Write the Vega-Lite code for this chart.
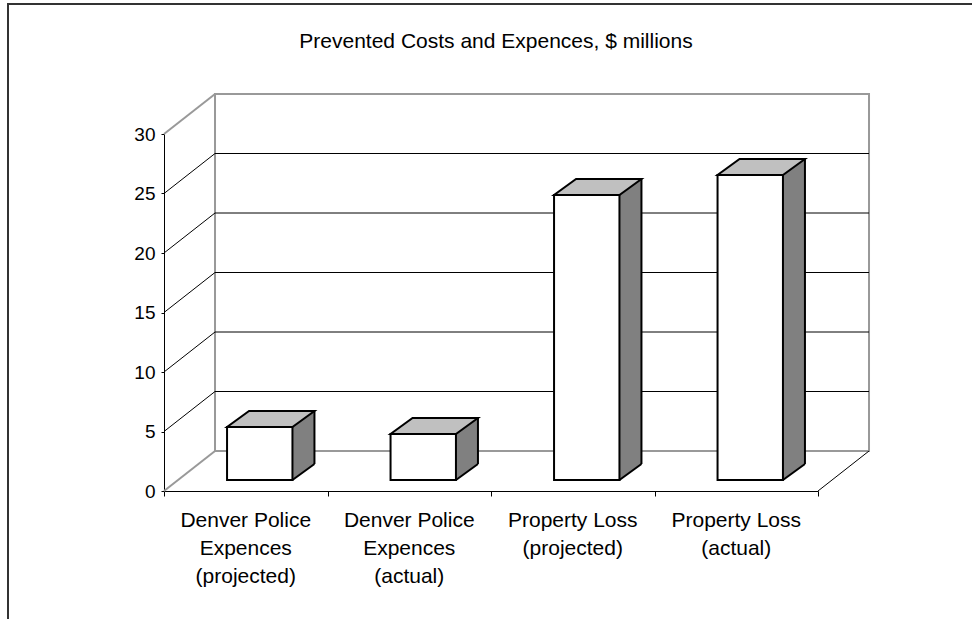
{
  "$schema": "https://vega.github.io/schema/vega-lite/v6.json",
  "width": 654,
  "height": 357,
  "autosize": "none",
  "padding": {"left": 164, "top": 134, "right": 154, "bottom": 128},
  "background": "white",
  "config": {
    "view": {"stroke": null},
    "font": "Liberation Sans",
    "axis": {"labelFont": "Liberation Sans", "labelColor": "black", "domainColor": "black", "tickColor": "black", "grid": false}
  },
  "title": {"text": "Prevented Costs and Expences, $ millions", "frame": "group", "anchor": "middle", "fontSize": 21, "fontWeight": "normal", "font": "Liberation Sans", "color": "black", "offset": -49, "dx": 5},
  "datasets": {
    "bars": [
      {"category": "Denver Police Expences (projected)", "value": 4.45},
      {"category": "Denver Police Expences (actual)", "value": 3.87},
      {"category": "Property Loss (projected)", "value": 23.95},
      {"category": "Property Loss (actual)", "value": 25.63}
    ],
    "grid": [{"v": 5}, {"v": 10}, {"v": 15}, {"v": 20}, {"v": 25}],
    "edges": [{"v": 0}, {"v": 30}],
    "one": [{}]
  },
  "resolve": {"scale": {"x": "independent"}, "axis": {"x": "independent"}},
  "layer": [
    {
      "layer": [
        {
          "data": {"name": "one"},
          "mark": {"type": "rect", "fillOpacity": 0, "stroke": "#333333", "strokeWidth": 2},
          "encoding": {
            "x": {"value": -156},
            "x2": {"value": 900},
            "y": {"value": -130},
            "y2": {"value": 600}
          }
        },
        {
          "data": {"name": "one"},
          "mark": {"type": "rect", "fillOpacity": 0, "stroke": "#999999", "strokeWidth": 2, "yOffset": -40, "y2Offset": -40},
          "encoding": {
            "x": {"datum": 0.078, "type": "quantitative", "scale": {"domain": [0, 1]}, "axis": {"orient": "bottom", "values": [0, 0.25, 0.5, 0.75, 1], "labels": false, "domain": false, "ticks": true, "tickSize": 5, "tickColor": "black", "grid": false, "title": null}},
            "x2": {"datum": 1.078},
            "y": {"datum": 30, "type": "quantitative", "title": null, "scale": {"domain": [0, 30], "nice": false}, "axis": {"values": [0, 5, 10, 15, 20, 25, 30], "tickSize": 3, "labelPadding": 6, "labelFontSize": 19, "domainColor": "black", "tickColor": "black", "grid": false, "title": null}},
            "y2": {"datum": 0}
          }
        },
        {
          "data": {"name": "grid"},
          "mark": {"type": "rule", "color": "black", "strokeWidth": 1, "yOffset": -40},
          "encoding": {
            "x": {"datum": 0.078, "type": "quantitative", "scale": {"domain": [0, 1]}},
            "x2": {"datum": 1.078},
            "y": {"field": "v", "type": "quantitative", "title": null, "scale": {"domain": [0, 30], "nice": false}}
          }
        },
        {
          "data": {"name": "grid"},
          "mark": {"type": "rule", "color": "black", "strokeWidth": 1, "y2Offset": -40},
          "encoding": {
            "x": {"datum": 0, "type": "quantitative", "scale": {"domain": [0, 1]}},
            "x2": {"datum": 0.078},
            "y": {"field": "v", "type": "quantitative", "title": null, "scale": {"domain": [0, 30], "nice": false}},
            "y2": {"field": "v"}
          }
        },
        {
          "data": {"name": "edges"},
          "mark": {"type": "rule", "color": "#999999", "strokeWidth": 2, "y2Offset": -40},
          "encoding": {
            "x": {"datum": 0, "type": "quantitative", "scale": {"domain": [0, 1]}},
            "x2": {"datum": 0.078},
            "y": {"field": "v", "type": "quantitative", "title": null, "scale": {"domain": [0, 30], "nice": false}},
            "y2": {"field": "v"}
          }
        },
        {
          "data": {"name": "one"},
          "mark": {"type": "rule", "color": "black", "strokeWidth": 1, "y2Offset": -40},
          "encoding": {
            "x": {"datum": 1, "type": "quantitative", "scale": {"domain": [0, 1]}},
            "x2": {"datum": 1.078},
            "y": {"datum": 0, "type": "quantitative", "title": null, "scale": {"domain": [0, 30], "nice": false}},
            "y2": {"datum": 0}
          }
        }
      ]
    },
    {
      "data": {"name": "bars"},
      "encoding": {
        "x": {"field": "category", "type": "nominal", "sort": null, "title": null,
              "scale": {"paddingInner": 0.6, "paddingOuter": 0.3},
              "axis": {"orient": "bottom", "ticks": false, "domain": true, "domainColor": "black", "labelAngle": 0, "labelFontSize": 21, "labelLineHeight": 28, "labelPadding": 18, "labelLimit": 0,
                       "labelExpr": "split(replace(replace(datum.label, 'Police ', 'Police|'), ' (', '|('), '|')", "title": null}}
      },
      "layer": [
        {
          "mark": {"type": "bar", "fill": "#808080", "strokeWidth": 0, "xOffset": 36, "yOffset": -27, "y2Offset": -27},
          "encoding": {
            "y": {"field": "value", "type": "quantitative", "title": null, "scale": {"domain": [0, 30], "nice": false}},
            "y2": {"datum": 0}
          }
        },
        {
          "mark": {"type": "point", "shape": "M0.654,0L0.654,-0.33L1.094,-0.33L1.094,-0.32Z", "size": 10000, "filled": true, "fill": "#808080", "strokeWidth": 0, "opacity": 1, "xOffset": 14, "yOffset": -11},
          "encoding": {
            "y": {"datum": 0, "type": "quantitative"}
          }
        },
        {
          "mark": {"type": "point", "shape": "M0.654,0L1.094,-0.32", "size": 10000, "filled": false, "stroke": "black", "strokeWidth": 2, "opacity": 1, "xOffset": 14, "yOffset": -11},
          "encoding": {
            "y": {"datum": 0, "type": "quantitative"}
          }
        },
        {
          "mark": {"type": "rule", "color": "black", "strokeWidth": 2, "xOffset": 68.7, "yOffset": -27, "y2Offset": -27},
          "encoding": {
            "y": {"field": "value", "type": "quantitative"},
            "y2": {"datum": 0}
          }
        },
        {
          "mark": {"type": "point", "shape": "M-0.654,0L0.654,0L1.094,-0.32L-0.214,-0.32Z", "size": 10000, "filled": true, "fill": "#C0C0C0", "stroke": "black", "strokeWidth": 2, "opacity": 1, "xOffset": 14, "yOffset": -11},
          "encoding": {
            "y": {"field": "value", "type": "quantitative"}
          }
        },
        {
          "mark": {"type": "bar", "fill": "white", "stroke": "black", "strokeWidth": 2, "xOffset": 14, "yOffset": -11, "y2Offset": -11},
          "encoding": {
            "y": {"field": "value", "type": "quantitative"},
            "y2": {"datum": 0}
          }
        }
      ]
    }
  ]
}
